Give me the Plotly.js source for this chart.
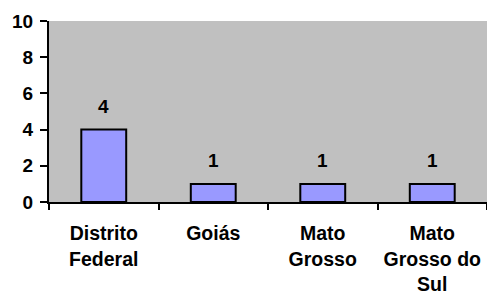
<!DOCTYPE html>
<html>
<head>
<meta charset="utf-8">
<script src="https://cdn.plot.ly/plotly-3.0.1.min.js"></script>
<style>html,body{margin:0;padding:0;background:#fff;}#chart{width:487px;height:293px;}</style>
</head>
<body>
<div id="chart"></div>
<script>
var categories = ["Distrito<br>Federal", "Goiás", "Mato<br>Grosso", "Mato<br>Grosso do<br>Sul"];
var values = [4, 1, 1, 1];
var yTicks = [0, 2, 4, 6, 8, 10];

var FONT = "Liberation Sans, Arial, sans-serif";

var trace = {
  type: "bar",
  x: categories,
  y: values,
  marker: {color: "#9999FF", line: {color: "#000000", width: 2}},
  hoverinfo: "none"
};

var annotations = values.map(function (v, i) {
  return {
    x: categories[i], y: v, xref: "x", yref: "y",
    text: "<b>" + v + "</b>", showarrow: false,
    yanchor: "bottom", yshift: 11,
    font: {family: FONT, size: 19, color: "#000"}
  };
});

var layout = {
  width: 487, height: 293,
  margin: {l: 49, r: 0, t: 21, b: 91, pad: 0},
  paper_bgcolor: "#ffffff",
  plot_bgcolor: "#C0C0C0",
  showlegend: false,
  bargap: 0.59,
  font: {family: FONT, size: 19, color: "#000"},
  xaxis: {
    type: "category",
    showline: true, linecolor: "#000", linewidth: 2,
    ticks: "outside", ticklen: 6, tickwidth: 2, tickcolor: "#000",
    tickson: "boundaries",
    tickangle: 0,
    ticklabelstandoff: 13,
    showgrid: false, zeroline: false,
    tickfont: {family: FONT, size: 19.5, color: "#000", weight: "bold"},
    fixedrange: true
  },
  yaxis: {
    range: [0, 10],
    tickvals: yTicks,
    ticktext: yTicks.map(String),
    showline: true, linecolor: "#000", linewidth: 2,
    ticks: "outside", ticklen: 7, tickwidth: 2, tickcolor: "#000",
    ticklabelstandoff: 3,
    showgrid: false, zeroline: false,
    tickfont: {family: FONT, size: 19, color: "#000", weight: "bold"},
    fixedrange: true
  },
  annotations: annotations
};

Plotly.newPlot("chart", [trace], layout, {displayModeBar: false, staticPlot: true});
</script>
</body>
</html>
